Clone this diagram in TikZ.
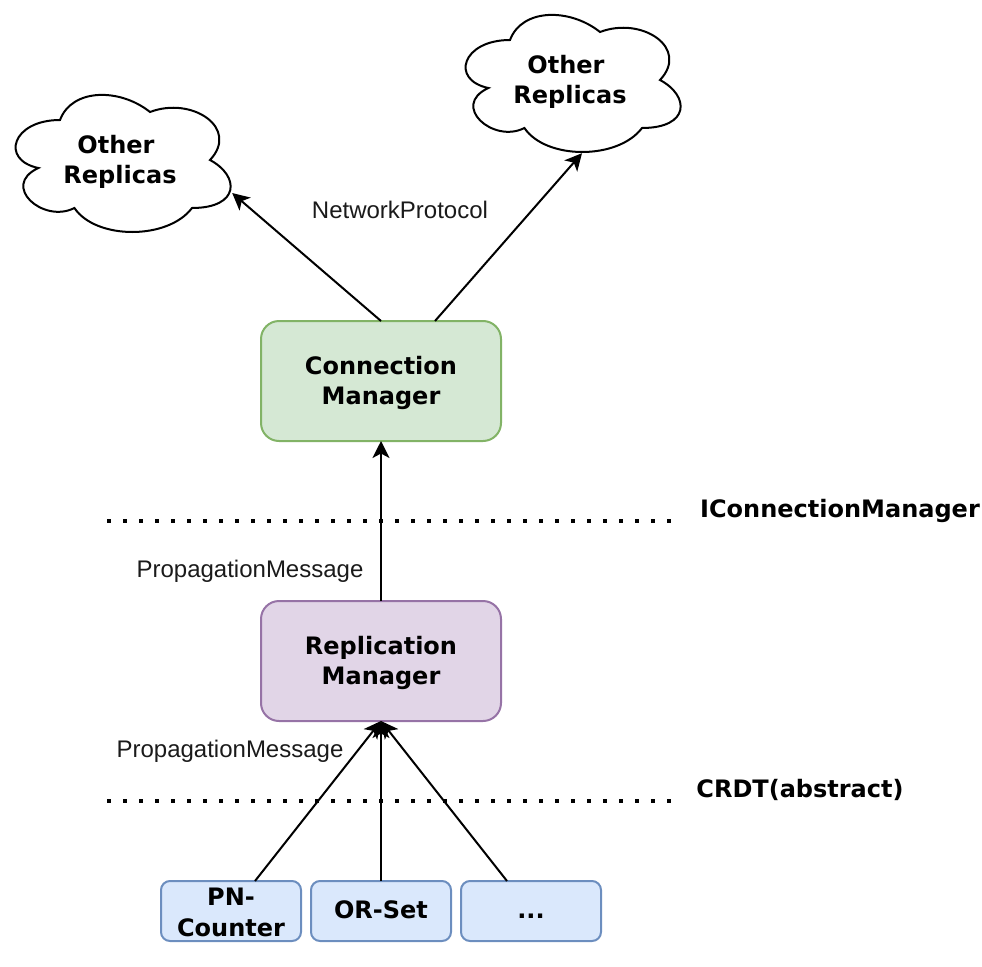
\documentclass[tikz,border=0pt]{standalone}
\usepackage{fontspec}
\setmainfont{DejaVu Sans}
\newfontfamily\labelfont{Liberation Sans}
\usetikzlibrary{arrows.meta,positioning}

\definecolor{greenfill}{HTML}{D5E8D4}
\definecolor{greenline}{HTML}{82B366}
\definecolor{purplefill}{HTML}{E1D5E7}
\definecolor{purpleline}{HTML}{9673A6}
\definecolor{bluefill}{HTML}{DAE8FC}
\definecolor{blueline}{HTML}{6C8EBF}
\definecolor{labelgray}{HTML}{1A1A1A}

\newcommand{\topgap}{\rule{0pt}{22pt}}
\newcommand{\cloudoutline}[1]{%
  \draw[line width=2pt, shift={(#1)}, x=240pt, y=160pt]
    (-.25,.25) .. controls (-.45,.25) and (-.5,0) .. (-.34,-.05)
    .. controls (-.5,-.16) and (-.32,-.4) .. (-.19,-.3)
    .. controls (-.1,-.5) and (.2,-.5) .. (.3,-.3)
    .. controls (.5,-.3) and (.5,-.1) .. (.375,0)
    .. controls (.5,.2) and (.3,.4) .. (.125,.3)
    .. controls (0,.45) and (-.2,.45) .. (-.25,.25) -- cycle;}

\begin{document}
\begin{tikzpicture}[
  x = 1pt, y = 1pt,
  node distance = 160pt and 10pt,
  > = {Stealth[length=17pt, width=17pt, inset=4.5pt]},
  arrow/.style = {->, line width=2pt},
  var/.style = {rectangle, draw, line width=2pt, align=center, inner sep=0pt, outer sep=0pt,
                font=\fontsize{24}{30}\selectfont\bfseries},
  manager/.style = {var, minimum width=240pt, minimum height=120pt, rounded corners=18pt},
  crdt/.style = {var, minimum width=140pt, minimum height=60pt, rounded corners=9pt,
                 fill=bluefill, draw=blueline},
  oneline/.style = {text height=17pt, text depth=3pt},
  replicas/.style = {align=center, inner sep=0pt, minimum width=240pt, minimum height=160pt,
                     font=\fontsize{24}{30}\selectfont\bfseries},
  iface/.style = {inner sep=0pt, font=\fontsize{24}{28}\selectfont\bfseries},
  msg/.style = {inner sep=0pt, text=labelgray, font=\fontsize{24}{28}\selectfont\labelfont},
  layer/.style = {line width=3.5pt, dash pattern=on 3.5pt off 12.5pt}
]
\useasboundingbox (0,0) rectangle (982,-966);

% ───────── clouds ─────────
\node[replicas] (other1) at (120,-160) {\topgap Other\kern8pt\\Replicas};
\node[replicas] (other2) at (570,-80)  {\topgap Other\kern8pt\\Replicas};
\cloudoutline{other1.center}
\cloudoutline{other2.center}

% ───────── managers ─────────
\node[manager, fill=greenfill, draw=greenline] (conn) at (381,-381) {\topgap Connection\\Manager};
\node[manager, fill=purplefill, draw=purpleline, below=of conn] (repl) {\topgap Replication\\Manager};

% ───────── CRDT row ─────────
\node[crdt, oneline, below=of repl]  (orset) {OR-Set};
\node[crdt, left=of orset]           (pn)    {\rule{0pt}{20pt}PN-\\[1pt]Counter};
\node[crdt, oneline, right=of orset] (more)  {...};

% ───────── layers ─────────
\coordinate (ifaceL) at (107,-521);
\coordinate (ifaceR) at (672,-521);
\coordinate (absL)   at (107,-801);
\coordinate (absR)   at (672,-801);
\draw[layer] (ifaceL) -- (ifaceR);
\draw[layer] (absL) -- (absR);

% ───────── labels ─────────
\node[iface] (ifacetxt) at (840,-510.5) {IConnectionManager};
\node[iface] (abstxt)   at (800,-790)   {CRDT(abstract)};
\node[msg] (nettxt)  at (400,-210)   {NetworkProtocol};
\node[msg] (proptop) at (250,-571.5) {PropagationMessage};
\node[msg] (propbot) at (230,-751.5) {PropagationMessage};

% ───────── arrows ──────────
\draw[arrow] (conn.north) -- ([xshift=-8pt,yshift=-33pt]other1.east);
\draw[arrow] ([xshift=54pt]conn.north) -- ([xshift=12pt,yshift=7pt]other2.south);
\draw[arrow] (repl.north) -- (conn.south);
\draw[arrow] ([xshift=24pt]pn.north) -- (repl.south);
\draw[arrow] (orset.north) -- (repl.south);
\draw[arrow] ([xshift=-24pt]more.north) -- (repl.south);

\end{tikzpicture}
\end{document}
